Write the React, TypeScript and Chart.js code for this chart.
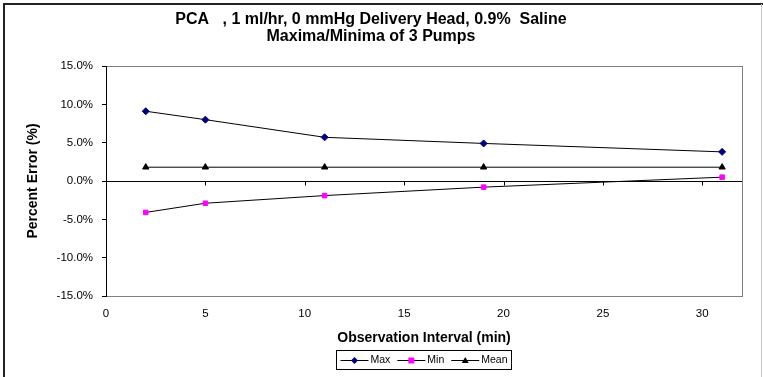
import React, { useEffect, useRef } from "react";
import { Chart, registerables } from "chart.js";

Chart.register(...registerables);

// ---- data ----
const intervals = [2, 5, 11, 19, 31];
const maxValues = [9.1, 8.0, 5.7, 4.9, 3.8];
const minValues = [-4.1, -2.9, -1.9, -0.8, 0.5];
const meanValues = [1.8, 1.8, 1.8, 1.8, 1.8];
const xTickValues = [0, 5, 10, 15, 20, 25, 30];
const yTickValues = [-15, -10, -5, 0, 5, 10, 15];
const seriesNames = ["Max", "Min", "Mean"];
const titleLines = [
  "PCA   , 1 ml/hr, 0 mmHg Delivery Head, 0.9%  Saline",
  "Maxima/Minima of 3 Pumps",
];
const xTitle = "Observation Interval (min)";
const yTitle = "Percent Error (%)";

const FONT = "'Liberation Sans', Arial, sans-serif";

function drawMarker(ctx: CanvasRenderingContext2D, style: string, x: number, y: number, color: string) {
  ctx.save();
  ctx.fillStyle = color;
  ctx.strokeStyle = color;
  ctx.beginPath();
  if (style === "rectRot") {
    const r = 3.5;
    ctx.moveTo(x, y - r);
    ctx.lineTo(x + r, y);
    ctx.lineTo(x, y + r);
    ctx.lineTo(x - r, y);
    ctx.closePath();
  } else if (style === "rect") {
    ctx.rect(x - 3, y - 3, 6, 6);
  } else {
    const r = 3.5;
    ctx.moveTo(x, y - r);
    ctx.lineTo(x + r, y + r * 0.7);
    ctx.lineTo(x - r, y + r * 0.7);
    ctx.closePath();
  }
  ctx.fill();
  ctx.restore();
}

const decorPlugin = {
  id: "excelDecor",
  beforeDraw(chart: any) {
    const ctx = chart.ctx as CanvasRenderingContext2D;
    ctx.save();
    ctx.fillStyle = "#ffffff";
    ctx.fillRect(0, 0, chart.width, chart.height);
    // outer frame
    ctx.strokeStyle = "#222222";
    ctx.lineWidth = 2;
    ctx.beginPath();
    ctx.moveTo(4, chart.height);
    ctx.lineTo(4, 4);
    ctx.lineTo(chart.width, 4);
    ctx.stroke();
    ctx.strokeStyle = "#c8c8c8";
    ctx.lineWidth = 1;
    ctx.beginPath();
    ctx.moveTo(761.5, 4);
    ctx.lineTo(761.5, chart.height);
    ctx.stroke();
    ctx.restore();
  },
  beforeDatasetsDraw(chart: any) {
    const ctx = chart.ctx as CanvasRenderingContext2D;
    const { left, right, top, bottom } = chart.chartArea;
    const xs = chart.scales.x;
    const ys = chart.scales.y;
    ctx.save();
    // plot area border
    ctx.strokeStyle = "#808080";
    ctx.lineWidth = 1;
    ctx.strokeRect(left + 0.5, top + 0.5, right - left, bottom - top);
    // zero line (category axis crossing)
    const y0 = Math.round(ys.getPixelForValue(0)) + 0.5;
    ctx.strokeStyle = "#000000";
    ctx.beginPath();
    ctx.moveTo(left, y0);
    ctx.lineTo(right, y0);
    ctx.stroke();
    // tick marks on zero line
    ctx.beginPath();
    for (const v of xTickValues) {
      if (v === 0) continue;
      const px = Math.round(xs.getPixelForValue(v)) + 0.5;
      ctx.moveTo(px, y0);
      ctx.lineTo(px, y0 + 4);
    }
    ctx.stroke();
    // y axis line
    ctx.beginPath();
    ctx.moveTo(left + 0.5, top);
    ctx.lineTo(left + 0.5, bottom + 1);
    ctx.stroke();
    ctx.restore();
  },
  afterDraw(chart: any) {
    const ctx = chart.ctx as CanvasRenderingContext2D;
    const { left, right } = chart.chartArea;
    ctx.save();
    ctx.font = `10.5px ${FONT}`;
    const lineLen = 28;
    const gap = 2;
    const spacing = 7;
    const pad = 4;
    const widths = seriesNames.map((n) => ctx.measureText(n).width);
    let total = pad * 2;
    widths.forEach((w, i) => {
      total += lineLen + gap + w + (i < widths.length - 1 ? spacing : 0);
    });
    const cx = (left + right) / 2;
    const bx = Math.round(cx - total / 2) + 0.5;
    const by = 350.5;
    const bh = 19;
    ctx.strokeStyle = "#000000";
    ctx.lineWidth = 1;
    ctx.strokeRect(bx, by, Math.round(total), bh);
    let x = bx + pad;
    const yMid = by + bh / 2;
    chart.data.datasets.forEach((ds: any, i: number) => {
      ctx.strokeStyle = "#000000";
      ctx.lineWidth = 1;
      ctx.beginPath();
      ctx.moveTo(x, Math.round(yMid) + 0.5);
      ctx.lineTo(x + lineLen, Math.round(yMid) + 0.5);
      ctx.stroke();
      drawMarker(ctx, ds.pointStyle, x + lineLen / 2, Math.round(yMid) + 0.5, ds.pointBackgroundColor);
      x += lineLen + gap;
      ctx.fillStyle = "#000000";
      ctx.textBaseline = "middle";
      ctx.textAlign = "left";
      ctx.fillText(seriesNames[i], x, yMid + 0.5);
      x += widths[i] + spacing;
    });
    ctx.restore();
  },
};

export default function App() {
  const canvasRef = useRef<HTMLCanvasElement | null>(null);

  useEffect(() => {
    if (!canvasRef.current) return;
    const mk = (vals: number[]) => intervals.map((x, k) => ({ x, y: vals[k] }));
    const chart = new Chart(canvasRef.current, {
      type: "line",
      data: {
        datasets: [
          {
            label: seriesNames[0],
            data: mk(maxValues),
            borderColor: "#000000",
            borderWidth: 1,
            pointStyle: "rectRot",
            pointRadius: 3.5,
            pointBackgroundColor: "#000080",
            pointBorderColor: "#000080",
            pointBorderWidth: 1,
          },
          {
            label: seriesNames[1],
            data: mk(minValues),
            borderColor: "#000000",
            borderWidth: 1,
            pointStyle: "rect",
            pointRadius: 3.2,
            pointBackgroundColor: "#ff00ff",
            pointBorderColor: "#ff00ff",
            pointBorderWidth: 1,
          },
          {
            label: seriesNames[2],
            data: mk(meanValues),
            borderColor: "#000000",
            borderWidth: 1,
            pointStyle: "triangle",
            pointRadius: 3.6,
            pointBackgroundColor: "#000000",
            pointBorderColor: "#000000",
            pointBorderWidth: 1,
          },
        ] as any,
      },
      options: {
        animation: false,
        responsive: false,
        maintainAspectRatio: false,
        layout: { padding: { left: 0, top: 0, right: 21, bottom: 0 } },
        plugins: {
          legend: { display: false },
          tooltip: { enabled: false },
          title: {
            display: true,
            text: titleLines,
            color: "#000000",
            font: { family: FONT, size: 16, weight: "bold", lineHeight: 17 / 16 },
            padding: { top: 11.5, bottom: 20.5 },
          },
        },
        scales: {
          x: {
            type: "linear",
            min: 0,
            max: 32,
            afterBuildTicks: (scale: any) => {
              scale.ticks = xTickValues.map((v) => ({ value: v }));
            },
            afterFit: (scale: any) => {
              scale.height = 81;
            },
            grid: { display: false, drawTicks: false },
            border: { display: false },
            ticks: {
              color: "#000000",
              font: { family: FONT, size: 11.5 },
              padding: 11,
              maxRotation: 0,
            },
            title: {
              display: true,
              text: xTitle,
              color: "#000000",
              font: { family: FONT, size: 14, weight: "bold" },
              padding: { top: 0, bottom: 30 },
            },
          },
          y: {
            type: "linear",
            min: -15,
            max: 15,
            afterBuildTicks: (scale: any) => {
              scale.ticks = yTickValues.map((v) => ({ value: v }));
            },
            afterFit: (scale: any) => {
              scale.width = 106;
            },
            grid: {
              drawOnChartArea: false,
              drawTicks: true,
              tickLength: 4,
              tickColor: "#000000",
              color: "#000000",
            },
            border: { display: true, color: "#000000" },
            ticks: {
              color: "#000000",
              font: { family: FONT, size: 11.5 },
              padding: 9,
              callback: (v: any) => `${Number(v).toFixed(1)}%`,
            },
            title: {
              display: true,
              text: yTitle,
              color: "#000000",
              font: { family: FONT, size: 14, weight: "bold" },
              padding: { top: 25, bottom: 0 },
            },
          },
        },
      },
      plugins: [decorPlugin],
    });
    return () => chart.destroy();
  }, []);

  return (
    <div style={{ position: "absolute", left: 0, top: 0, width: 763, height: 377 }}>
      <canvas ref={canvasRef} width={763} height={377} style={{ display: "block" }} />
    </div>
  );
}
